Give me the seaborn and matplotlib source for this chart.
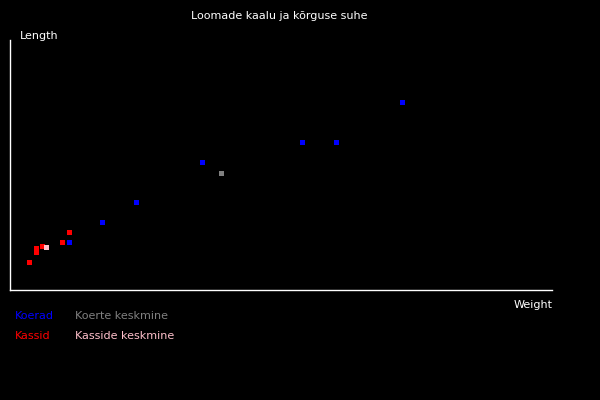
import numpy as np
import pandas as pd
import matplotlib
matplotlib.use('Agg')
import matplotlib.pyplot as plt
import seaborn as sns

# Data
dog_weight = [8, 13, 18, 28, 43, 48, 58]
dog_length = [20, 30, 40, 60, 70, 70, 90]
cat_weight = [2, 3, 3, 4, 7, 8]
cat_length = [10, 17, 15, 18, 20, 25]

labels = ['Koerad', 'Koerte keskmine', 'Kassid', 'Kasside keskmine']
colors = ['#0000ff', '#808080', '#ff0000', '#ffc0cb']

df = pd.DataFrame({
    'Weight': dog_weight + [np.mean(dog_weight)] + cat_weight + [np.mean(cat_weight)],
    'Length': dog_length + [np.mean(dog_length)] + cat_length + [np.mean(cat_length)],
    'group': ['Koerad'] * len(dog_weight) + ['Koerte keskmine']
             + ['Kassid'] * len(cat_weight) + ['Kasside keskmine'],
})

sns.set_style('dark', {'axes.facecolor': 'black', 'figure.facecolor': 'black'})
plt.rcParams['font.family'] = ['DejaVu Sans']

fig = plt.figure(figsize=(6, 4), dpi=100)
fig.patch.set_facecolor('black')
ax = fig.add_axes([10 / 600, 110 / 400, 542 / 600, 250 / 400])
ax.set_facecolor('black')

sns.scatterplot(data=df, x='Weight', y='Length', hue='group',
                hue_order=labels, palette=dict(zip(labels, colors)),
                marker='s', s=13, linewidth=0, legend=False, ax=ax)

ax.set_xlim(-0.92, -0.92 + 542 / 6.667)
ax.set_ylim(-3.75, -3.75 + 125)
ax.set_xticks([])
ax.set_yticks([])
ax.set_xlabel('')
ax.set_ylabel('')
ax.grid(False)
for side in ['top', 'right']:
    ax.spines[side].set_visible(False)
for side in ['left', 'bottom']:
    ax.spines[side].set_visible(True)
    ax.spines[side].set_color('white')
    ax.spines[side].set_linewidth(1)

fs = 8
fig.text(279 / 600, 1 - 16 / 400, 'Loomade kaalu ja kõrguse suhe', color='white',
         fontsize=fs, ha='center', va='center')
fig.text(20 / 600, 1 - 36 / 400, 'Length', color='white', fontsize=fs, ha='left', va='center')
fig.text(553 / 600, 1 - 305 / 400, 'Weight', color='white', fontsize=fs, ha='right', va='center')

# legend as coloured text rows
pos = [(15, 316), (75, 316), (15, 336), (75, 336)]
for (x, y), lab, col in zip(pos, labels, colors):
    fig.text(x / 600, 1 - y / 400, lab, color=col, fontsize=fs, ha='left', va='center')

fig.savefig('out.png', dpi=100, facecolor='black')
